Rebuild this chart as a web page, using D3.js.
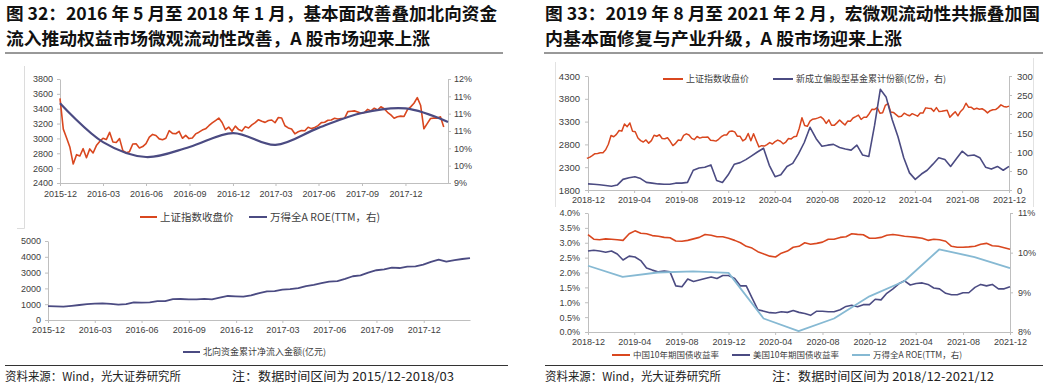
<!DOCTYPE html>
<html>
<head>
<meta charset="utf-8">
<script src="https://cdn.jsdelivr.net/npm/d3@7"></script>
<style>
  body { margin: 0; background: #fff; }
  svg { display: block; }
</style>
</head>
<body>
<script>
// ---------- text ----------
const leftTitle = [
  "图 32：2016 年 5 月至 2018 年 1 月，基本面改善叠加北向资金",
  "流入推动权益市场微观流动性改善，A 股市场迎来上涨",
];
const rightTitle = [
  "图 33：2019 年 8 月至 2021 年 2 月，宏微观流动性共振叠加国",
  "内基本面修复与产业升级，A 股市场迎来上涨",
];
const sourceText = "资料来源：Wind，光大证券研究所";
const leftNote = "注：数据时间区间为 2015/12-2018/03";
const rightNote = "注：数据时间区间为 2018/12-2021/12";

// ---------- fig 32 data ----------
const leftXTicks = ["2015-12", "2016-03", "2016-06", "2016-09", "2016-12", "2017-03", "2017-06", "2017-09", "2017-12"];
const leftIndexTicks = [2400, 2600, 2800, 3000, 3200, 3400, 3600, 3800];
const leftRoeTicks = [9, 9.5, 10, 10.5, 11, 11.5, 12];
const leftRoeTickLabels = ["9%", "10%", "10%", "11%", "11%", "11%", "12%"];
const flowTicks = [0, 1000, 2000, 3000, 4000, 5000];

// 上证指数收盘价, weekly from 2015-12-31
const sseWeekly1 = [
  3539, 3125, 3007, 2880, 2655, 2781, 2763, 2862, 2741, 2859,
  2804, 2904, 2960, 3003, 2985, 3082, 2953, 2946, 2997, 2836,
  2807, 2822, 2925, 2927, 2872, 2891, 2930, 3017, 3054, 3039,
  2994, 2982, 3002, 3104, 3068, 3063, 3096, 3002, 3042, 2998,
  3005, 3061, 3084, 3112, 3129, 3171, 3208, 3241, 3274, 3215,
  3117, 3153, 3096, 3165, 3119, 3101, 3159, 3140, 3183, 3212,
  3252, 3231, 3216, 3241, 3248, 3211, 3281, 3275, 3171, 3141,
  3127, 3062, 3090, 3107, 3103, 3150, 3132, 3147, 3173, 3213,
  3218, 3245, 3249, 3272, 3262, 3268, 3271, 3361, 3366, 3371,
  3357, 3339, 3349, 3391, 3371, 3407, 3383, 3427, 3399, 3352,
  3317, 3272, 3292, 3300, 3296, 3385, 3425, 3474, 3549, 3447,
  3130, 3199, 3268, 3273, 3271, 3291, 3153,
];

// 万得全A ROE(TTM), quarter ends
const roeQuarters1 = ["2015-12", "2016-03", "2016-06", "2016-09", "2016-12", "2017-03", "2017-06", "2017-09", "2017-12", "2018-03"];
const roeValues1 = [11.3, 10.18, 9.75, 10.04, 10.44, 10.1, 10.59, 11.02, 11.15, 10.76];

// 北向资金累计净流入金额(亿元), semi-monthly from 2015-12-31
const northFlow = [
  880, 860, 845, 900, 950, 1000, 1030, 1055, 1020, 975,
  1000, 1115, 1100, 1110, 1190, 1200, 1320, 1330, 1310, 1310,
  1340, 1310, 1420, 1520, 1500, 1480, 1560, 1700, 1810, 1830,
  1920, 1960, 2020, 2150, 2230, 2330, 2430, 2460, 2600, 2770,
  2820, 3000, 3150, 3200, 3310, 3290, 3380, 3390, 3500, 3680,
  3820, 3700, 3790, 3860, 3920,
];

// ---------- fig 33 data ----------
const rightXTicks = ["2018-12", "2019-04", "2019-08", "2019-12", "2020-04", "2020-08", "2020-12", "2021-04", "2021-08", "2021-12"];
const rightIndexTicks = [1800, 2300, 2800, 3300, 3800, 4300];
const fundTicks = [0, 50, 100, 150, 200, 250, 300];
const yieldTicks = [0, 0.5, 1, 1.5, 2, 2.5, 3, 3.5, 4];
const roeTicks2 = [8, 9, 10, 11];

// 上证指数收盘价, weekly from 2018-12-28
const sseWeekly2 = [
  2494,
  2515, 2554, 2596, 2601, 2618, 2618, 2682, 2804, 2994, 2969,
  3021, 3104, 3091, 3247, 3189, 3270, 3086, 3078, 2939, 2882,
  2852, 2898, 2827, 2882, 3001, 2979, 3011, 2930, 2924, 2944,
  2868, 2774, 2824, 2898, 2886, 2999, 3031, 3006, 2932, 2905,
  2973, 2938, 2955, 2958, 2964, 2891, 2885, 2872, 2912, 2968,
  3005, 3005,
  3084, 3092, 3075, 2977, 2977, 2876, 2917, 3039, 2880, 3034,
  2887, 2746, 2772, 2764, 2797, 2839, 2808, 2860, 2895, 2868,
  2814, 2852, 2930, 2920, 2968, 2980, 3153, 3384, 3215, 3197,
  3310, 3354, 3360, 3381, 3404, 3355, 3260, 3338, 3220, 3218,
  3272, 3336, 3278, 3225, 3312, 3310, 3378, 3408, 3444, 3347,
  3395, 3397,
  3473, 3570, 3566, 3607, 3483, 3496, 3655, 3696, 3509, 3502,
  3453, 3405, 3418, 3484, 3451, 3427, 3474, 3447, 3419, 3490,
  3487, 3601, 3592, 3590, 3525, 3607, 3519, 3525, 3539, 3550,
  3397, 3458, 3517, 3427, 3522, 3581, 3703, 3613, 3613, 3568,
  3592, 3572, 3582, 3547, 3491, 3539, 3560, 3564, 3607, 3667,
  3632, 3618, 3640,
];

// 新成立偏股型基金累计份额(亿份), semi-monthly from 2018-12-31
const fundShares = [
  16, 15, 14, 12, 10, 13, 28, 32, 35, 30,
  20, 18, 16, 15, 15, 18, 18, 20, 52, 58,
  60, 66, 25, 20, 40, 68, 72, 80, 90, 100,
  110, 65, 35, 40, 62, 70, 95, 125, 165, 135,
  115, 118, 120, 112, 108, 105, 118, 92, 88, 170,
  265, 245, 185, 140, 85, 45, 28, 42, 52, 68,
  85, 80, 62, 82, 102, 90, 92, 85, 60, 55,
  62, 52, 62,
];

// 10年期国债收益率 (%), semi-monthly from 2018-12-31
const cnYield = [
  3.27, 3.12, 3.1, 3.13, 3.12, 3.1, 3.08, 3.3, 3.4, 3.32,
  3.3, 3.24, 3.22, 3.18, 3.17, 3.06, 3.05, 3.08, 3.13, 3.18,
  3.28, 3.25, 3.2, 3.2, 3.15, 3.08, 3.0, 2.88, 2.82, 2.7,
  2.62, 2.55, 2.52, 2.65, 2.72, 2.85, 2.88, 3.0, 2.95, 2.98,
  3.02, 3.12, 3.12, 3.18, 3.2, 3.3, 3.28, 3.27, 3.15, 3.15,
  3.18, 3.25, 3.28, 3.25, 3.22, 3.2, 3.18, 3.15, 3.08, 3.12,
  3.1, 3.05, 2.88, 2.85, 2.85, 2.86, 2.88, 2.95, 2.98, 2.9,
  2.88, 2.83, 2.78,
];
const usYield = [
  2.72, 2.75, 2.72, 2.68, 2.72, 2.62, 2.42, 2.55, 2.52, 2.4,
  2.15, 2.08, 2.02, 2.05, 2.02, 1.55, 1.52, 1.78, 1.7, 1.75,
  1.8, 1.85, 1.8, 1.9, 1.9, 1.8, 1.55, 1.55, 1.15, 0.75,
  0.7, 0.65, 0.64, 0.68, 0.66, 0.72, 0.66, 0.62, 0.56, 0.7,
  0.7, 0.68, 0.68, 0.75, 0.86, 0.9, 0.85, 0.92, 0.92, 1.1,
  1.08, 1.3, 1.45, 1.62, 1.72, 1.58, 1.63, 1.65, 1.6, 1.48,
  1.45, 1.3, 1.25, 1.25, 1.32, 1.32, 1.5, 1.6, 1.55, 1.6,
  1.45, 1.45, 1.52,
];

// 万得全A ROE(TTM), quarter ends
const roeQuarters2 = ["2018-12", "2019-03", "2019-06", "2019-09", "2019-12", "2020-03", "2020-06", "2020-09", "2020-12", "2021-03", "2021-06", "2021-09", "2021-12"];
const roeValues2 = [9.67, 9.39, 9.5, 9.53, 9.49, 8.34, 8.02, 8.34, 8.9, 9.28, 10.08, 9.89, 9.61];

// ---------- setup ----------
const RED = "#d9471f";
const NAVY = "#4b4b82";
const SKY = "#86b9d3";
const AXIS = "#bfbfbf";
const LABEL = "#404040";
const FONT = '"Liberation Sans", Arial, "Noto Sans CJK SC", sans-serif';
const CJK = '"Noto Sans CJK SC", sans-serif';

const svg = d3
  .select("body")
  .append("svg")
  .attr("width", 1055)
  .attr("height", 387)
  .attr("font-family", FONT);

const parseMonth = d3.timeParse("%Y-%m");
const fmtMonth = d3.timeFormat("%Y-%m");
const plain = d3.format("d");
// "2016-03" -> 2016-03-31
function monthEnd(s) {
  return d3.timeDay.offset(d3.timeMonth.offset(parseMonth(s), 1), -1);
}
function weekly(start, values) {
  return values.map((v, i) => ({ date: d3.timeDay.offset(start, 7 * i), v }));
}
function semiMonthly(start, end, values) {
  const span = d3.timeDay.count(start, end);
  return values.map((v, i) => ({
    date: d3.timeDay.offset(start, Math.round((i * span) / (values.length - 1))),
    v,
  }));
}
function quarterly(labels, values) {
  return values.map((v, i) => ({ date: monthEnd(labels[i]), v }));
}

function styleAxis(g, size) {
  g.attr("font-family", FONT);
  g.select(".domain").attr("stroke", AXIS);
  g.selectAll(".tick line").attr("stroke", AXIS);
  g.selectAll(".tick text").attr("fill", LABEL).attr("font-size", size);
}

function drawLine(data, x, y, color, width, curve) {
  svg
    .append("path")
    .datum(data)
    .attr("fill", "none")
    .attr("stroke", color)
    .attr("stroke-width", width)
    .attr("stroke-linejoin", "round")
    .attr(
      "d",
      d3
        .line()
        .x((d) => x(d.date))
        .y((d) => y(d.v))
        .curve(curve || d3.curveLinear),
    );
}

function legendItem(x, y, color, label, size, len) {
  svg
    .append("line")
    .attr("x1", x)
    .attr("x2", x + len)
    .attr("y1", y)
    .attr("y2", y)
    .attr("stroke", color)
    .attr("stroke-width", 2);
  svg
    .append("text")
    .attr("x", x + len + 3)
    .attr("y", y)
    .attr("dy", "0.35em")
    .attr("font-size", size)
    .attr("font-family", CJK)
    .attr("fill", LABEL)
    .text(label);
}

function titleBlock(x, lines, widths, ruleEnd) {
  lines.forEach((t, i) => {
    svg
      .append("text")
      .attr("x", x)
      .attr("y", 20 + i * 25)
      .attr("font-family", CJK)
      .attr("font-weight", 700)
      .attr("font-size", 17.5)
      .attr("fill", "#111")
      .attr("textLength", widths[i])
      .attr("lengthAdjust", "spacingAndGlyphs")
      .text(t);
  });
  svg
    .append("line")
    .attr("x1", x - 1)
    .attr("x2", ruleEnd)
    .attr("y1", 53)
    .attr("y2", 53)
    .attr("stroke", "#333")
    .attr("stroke-width", 1);
}

function footer(x, note, ruleEnd) {
  svg
    .append("line")
    .attr("x1", x)
    .attr("x2", ruleEnd)
    .attr("y1", 365.5)
    .attr("y2", 365.5)
    .attr("stroke", "#333");
  const g = svg.append("g").attr("font-family", CJK).attr("font-size", 12).attr("fill", "#222");
  g.append("text").attr("x", x).attr("y", 381).attr("textLength", 176).attr("lengthAdjust", "spacingAndGlyphs").text(sourceText);
  g.append("text").attr("x", x + 227).attr("y", 381).attr("textLength", 222).attr("lengthAdjust", "spacingAndGlyphs").text(note);
}

// ---------- figure 32 ----------
titleBlock(6, leftTitle, [491, 424], 503);

// image frame remnants
svg.append("path").attr("d", "M24.5,66V228.5H17").attr("fill", "none").attr("stroke", "#dcdcdc");

const x1 = d3.scaleTime().domain([new Date(2015, 11, 31), new Date(2018, 2, 31)]).range([60, 448]);
const yIdx1 = d3.scaleLinear().domain([2400, 3800]).range([183, 79]);
const yRoe1 = d3.scaleLinear().domain([9, 12]).range([183, 79]);

svg
  .append("g")
  .attr("transform", "translate(0,183)")
  .call(d3.axisBottom(x1).tickValues(leftXTicks.map(monthEnd)).tickFormat(fmtMonth).tickSize(3).tickSizeOuter(0).tickPadding(5))
  .call(styleAxis, 9);
svg
  .append("g")
  .attr("transform", "translate(60,0)")
  .call(d3.axisLeft(yIdx1).tickValues(leftIndexTicks).tickFormat(plain).tickSize(3).tickSizeOuter(0).tickPadding(4))
  .call(styleAxis, 9);
svg
  .append("g")
  .attr("transform", "translate(448,0)")
  .call(
    d3
      .axisRight(yRoe1)
      .tickValues(leftRoeTicks)
      .tickFormat((d, i) => leftRoeTickLabels[i])
      .tickSize(3)
      .tickSizeOuter(0)
      .tickPadding(3),
  )
  .call(styleAxis, 9);

drawLine(weekly(new Date(2015, 11, 31), sseWeekly1), x1, yIdx1, RED, 1.6);
drawLine(quarterly(roeQuarters1, roeValues1), x1, yRoe1, NAVY, 2.2, d3.curveCatmullRom.alpha(0.5));

legendItem(140, 217, RED, "上证指数收盘价", 10.5, 17);
legendItem(249, 217, NAVY, "万得全A ROE(TTM，右)", 10.5, 18);

// northbound flow chart
const x2 = d3.scaleTime().domain([new Date(2015, 11, 31), new Date(2018, 2, 31)]).range([48, 470]);
const yFlow = d3.scaleLinear().domain([0, 5000]).range([320, 241]);

svg
  .append("g")
  .attr("transform", "translate(0,320)")
  .call(d3.axisBottom(x2).tickValues(leftXTicks.map(monthEnd)).tickFormat(fmtMonth).tickSize(3).tickSizeOuter(0).tickPadding(4))
  .call(styleAxis, 9);
svg
  .append("g")
  .attr("transform", "translate(48,0)")
  .call(d3.axisLeft(yFlow).tickValues(flowTicks).tickFormat(plain).tickSize(3).tickSizeOuter(0).tickPadding(4))
  .call(styleAxis, 9);

drawLine(semiMonthly(new Date(2015, 11, 31), new Date(2018, 2, 31), northFlow), x2, yFlow, NAVY, 1.8);
legendItem(183, 352, NAVY, "北向资金累计净流入金额(亿元)", 9, 17);

footer(5, leftNote, 508);

// ---------- figure 33 ----------
titleBlock(545, rightTitle, [495, 357], 1043);

svg.append("path").attr("d", "M555.5,62V207M1033.5,58V207").attr("fill", "none").attr("stroke", "#e2e2e2");

const x3 = d3.scaleTime().domain([new Date(2018, 11, 31), new Date(2021, 11, 31)]).range([588, 1009]);
const yIdx3 = d3.scaleLinear().domain([1800, 4300]).range([190, 76]);
const yFund = d3.scaleLinear().domain([0, 300]).range([190, 76]);

svg
  .append("g")
  .attr("transform", "translate(0,190)")
  .call(d3.axisBottom(x3).tickValues(rightXTicks.map(monthEnd)).tickFormat(fmtMonth).tickSize(3).tickSizeOuter(0).tickPadding(4))
  .call(styleAxis, 9);
svg
  .append("g")
  .attr("transform", "translate(588,0)")
  .call(d3.axisLeft(yIdx3).tickValues(rightIndexTicks).tickFormat(plain).tickSize(3).tickSizeOuter(0).tickPadding(5))
  .call(styleAxis, 9.5);
svg
  .append("g")
  .attr("transform", "translate(1009,0)")
  .call(d3.axisRight(yFund).tickValues(fundTicks).tickFormat(plain).tickSize(3).tickSizeOuter(0).tickPadding(5))
  .call(styleAxis, 9.5);

const start3 = new Date(2018, 11, 31);
const end3 = new Date(2021, 11, 31);
drawLine(weekly(new Date(2018, 11, 28), sseWeekly2), x3, yIdx3, RED, 1.5);
drawLine(semiMonthly(start3, end3, fundShares), x3, yFund, NAVY, 1.6);

legendItem(663, 79, RED, "上证指数收盘价", 9, 20);
legendItem(773, 79, NAVY, "新成立偏股型基金累计份额(亿份，右)", 9, 20);

// yields chart
const x4 = d3.scaleTime().domain([start3, end3]).range([588, 1010]);
const yYield = d3.scaleLinear().domain([0, 4]).range([332, 213]);
const yRoe4 = d3.scaleLinear().domain([8, 11]).range([332, 213]);

svg
  .append("g")
  .attr("transform", "translate(0,332)")
  .call(d3.axisBottom(x4).tickValues(rightXTicks.map(monthEnd)).tickFormat(fmtMonth).tickSize(3).tickSizeOuter(0).tickPadding(4))
  .call(styleAxis, 9);
svg
  .append("g")
  .attr("transform", "translate(588,0)")
  .call(d3.axisLeft(yYield).tickValues(yieldTicks).tickFormat((d) => d.toFixed(1) + "%").tickSize(3).tickSizeOuter(0).tickPadding(5))
  .call(styleAxis, 9);
svg
  .append("g")
  .attr("transform", "translate(1010,0)")
  .call(d3.axisRight(yRoe4).tickValues(roeTicks2).tickFormat((d) => d + "%").tickSize(3).tickSizeOuter(0).tickPadding(5))
  .call(styleAxis, 9);

drawLine(semiMonthly(start3, end3, cnYield), x4, yYield, RED, 1.6);
drawLine(semiMonthly(start3, end3, usYield), x4, yYield, NAVY, 1.6);
drawLine(quarterly(roeQuarters2, roeValues2), x4, yRoe4, SKY, 1.8);

legendItem(612, 355, RED, "中国10年期国债收益率", 8.5, 18);
legendItem(732, 355, NAVY, "美国10年期国债收益率", 8.5, 18);
legendItem(852, 355, SKY, "万得全A ROE(TTM，右)", 8.5, 18);

footer(545, rightNote, 1043);
</script>
</body>
</html>
